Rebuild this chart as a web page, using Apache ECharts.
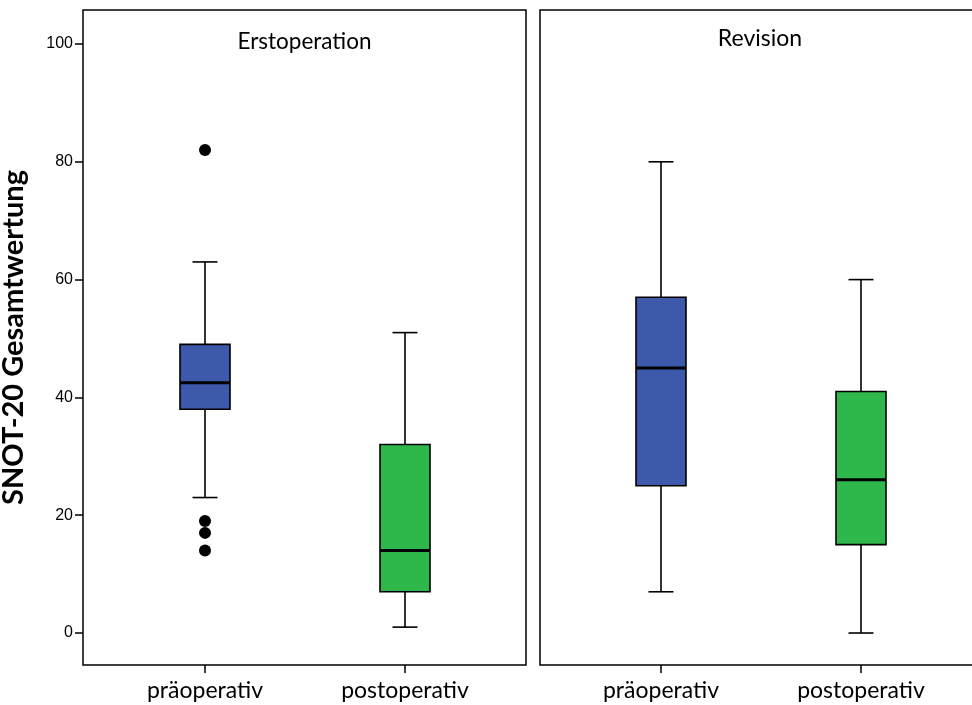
<!DOCTYPE html>
<html>
<head>
<meta charset="utf-8">
<script src="https://cdn.jsdelivr.net/npm/echarts@6/dist/echarts.min.js"></script>
<style>
  html, body { margin: 0; padding: 0; background: #fff; }
  #chart { width: 972px; height: 705px; }
</style>
</head>
<body>
<div id="chart"></div>
<script>
// Categories on each panel's x axis
const categories = ['präoperativ', 'postoperativ'];
// Panel titles
const panelTitles = ['Erstoperation', 'Revision'];
// Box statistics per category: [lower whisker, Q1, median, Q3, upper whisker]
const erstBoxes = [
  [23, 38, 42.5, 49, 63],
  [1, 7, 14, 32, 51]
];
const revisionBoxes = [
  [7, 25, 45, 57, 80],
  [0, 15, 26, 41, 60]
];
// Outliers: [category index, value]
const erstOutliers = [[0, 82], [0, 19], [0, 17], [0, 14]];
const revisionOutliers = [];
// Y tick labels
const yTicks = [0, 20, 40, 60, 80, 100];
const yName = 'SNOT-20 Gesamtwertung';

const boxColors = ['#3e59ab', '#2eb84b'];
const Y_MIN = -5.43, Y_MAX = 105.77;

function toRows(boxes) {
  return boxes.map((b, i) => [i].concat(b));
}

function renderBox(params, api) {
  const c = api.value(0);
  const pMin = api.coord([c, api.value(1)]);
  const pQ1 = api.coord([c, api.value(2)]);
  const pMed = api.coord([c, api.value(3)]);
  const pQ3 = api.coord([c, api.value(4)]);
  const pMax = api.coord([c, api.value(5)]);
  const band = api.size([1, 0])[0];
  const bw = band * 0.25;
  const cw = band * 0.125;
  const x = pMed[0];
  const ls = { stroke: '#000', lineWidth: 1.6 };
  return {
    type: 'group',
    children: [
      { type: 'line', shape: { x1: x, y1: pMax[1], x2: x, y2: pQ3[1] }, style: ls },
      { type: 'line', shape: { x1: x, y1: pQ1[1], x2: x, y2: pMin[1] }, style: ls },
      { type: 'line', shape: { x1: x - cw / 2, y1: pMax[1], x2: x + cw / 2, y2: pMax[1] }, style: ls },
      { type: 'line', shape: { x1: x - cw / 2, y1: pMin[1], x2: x + cw / 2, y2: pMin[1] }, style: ls },
      { type: 'rect', shape: { x: x - bw / 2, y: pQ3[1], width: bw, height: pQ1[1] - pQ3[1] },
        style: { fill: boxColors[c], stroke: '#000', lineWidth: 1.6 } },
      { type: 'line', shape: { x1: x - bw / 2, y1: pMed[1], x2: x + bw / 2, y2: pMed[1] },
        style: { stroke: '#000', lineWidth: 3 } }
    ]
  };
}

const chart = echarts.init(document.getElementById('chart'), null, { renderer: 'canvas' });

const frameY = (showLabels) => ({
  type: 'value', min: Y_MIN, max: Y_MAX,
  axisLine: { show: false },
  splitLine: { show: false },
  axisTick: { show: showLabels, inside: false, length: 8, customValues: yTicks, lineStyle: { color: '#000', width: 1.5 } },
  axisLabel: { show: showLabels, customValues: yTicks, margin: 10, color: '#000', fontSize: 16,
    fontFamily: 'Liberation Sans, Arial, sans-serif' },
  name: showLabels ? yName : '',
  nameLocation: 'middle', nameRotate: 90, nameGap: 55,
  nameTextStyle: { fontFamily: 'Lato, sans-serif', fontWeight: 'bold', fontSize: 29, color: '#000' }
});
const hiddenY = () => ({ type: 'value', min: Y_MIN, max: Y_MAX, show: false });
const hiddenX = () => ({ type: 'value', min: 0, max: 1, show: false });
const catX = () => ({
  type: 'category', data: categories, boundaryGap: true,
  axisLine: { show: false, onZero: false },
  axisTick: { show: true, alignWithLabel: true, length: 8, lineStyle: { color: '#000', width: 1.5 } },
  axisLabel: { color: '#000', fontSize: 23, margin: 14, fontFamily: 'Lato, sans-serif' },
  splitLine: { show: false }
});

const option = {
  backgroundColor: '#fff',
  animation: false,
  grid: [
    { left: 83, top: 10, width: 443, height: 655, show: true, borderColor: '#000', borderWidth: 1.5,
      backgroundColor: 'transparent', outerBoundsMode: 'none' },
    { left: 105, top: 10, width: 400, height: 655, outerBoundsMode: 'none' },
    { left: 540, top: 10, width: 450, height: 655, show: true, borderColor: '#000', borderWidth: 1.5,
      backgroundColor: 'transparent', outerBoundsMode: 'none' },
    { left: 561, top: 10, width: 400, height: 655, outerBoundsMode: 'none' }
  ],
  xAxis: [
    Object.assign(hiddenX(), { gridIndex: 0 }),
    Object.assign(catX(), { gridIndex: 1 }),
    Object.assign(hiddenX(), { gridIndex: 2 }),
    Object.assign(catX(), { gridIndex: 3 })
  ],
  yAxis: [
    Object.assign(frameY(true), { gridIndex: 0 }),
    Object.assign(hiddenY(), { gridIndex: 1 }),
    Object.assign(frameY(false), { gridIndex: 2 }),
    Object.assign(hiddenY(), { gridIndex: 3 })
  ],
  graphic: [
    { type: 'text', x: 304.5, y: 42, style: { text: panelTitles[0], fill: '#000', font: '22.5px Lato, sans-serif', textAlign: 'center', textVerticalAlign: 'middle' } },
    { type: 'text', x: 760, y: 39, style: { text: panelTitles[1], fill: '#000', font: '23px Lato, sans-serif', textAlign: 'center', textVerticalAlign: 'middle' } }
  ],
  series: [
    { type: 'custom', xAxisIndex: 1, yAxisIndex: 1, data: toRows(erstBoxes),
      encode: { x: 0, y: [1, 2, 3, 4, 5] }, renderItem: renderBox },
    { type: 'custom', xAxisIndex: 3, yAxisIndex: 3, data: toRows(revisionBoxes),
      encode: { x: 0, y: [1, 2, 3, 4, 5] }, renderItem: renderBox },
    { type: 'scatter', xAxisIndex: 1, yAxisIndex: 1, data: erstOutliers,
      symbol: 'circle', symbolSize: 12, itemStyle: { color: '#000', opacity: 1 } },
    { type: 'scatter', xAxisIndex: 3, yAxisIndex: 3, data: revisionOutliers,
      symbol: 'circle', symbolSize: 12, itemStyle: { color: '#000', opacity: 1 } }
  ]
};
chart.setOption(option);
</script>
</body>
</html>
